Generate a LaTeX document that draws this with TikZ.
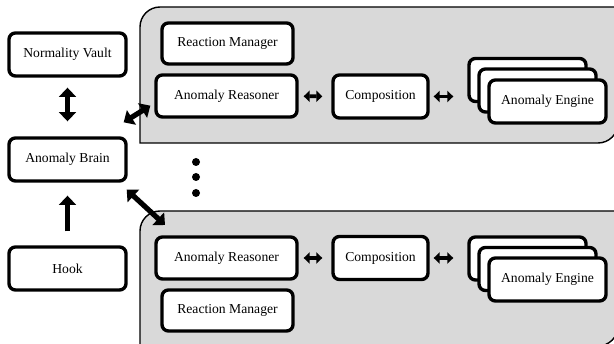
\documentclass[tikz,border=0pt]{standalone}
\usepackage{fontspec}
\setmainfont{Liberation Serif}
\usepackage{tikz}
\usetikzlibrary{arrows.meta, positioning}
\definecolor{PanelGray}{HTML}{D9D9D9}

\begin{document}
\begin{tikzpicture}[
    x=0.25mm, y=-0.25mm,
    box/.style={
      draw, fill=white, rounded corners=1.6mm, line width=2.4pt,
      align=center, inner sep=1mm, font=\fontsize{9.7}{11}\selectfont
    },
    side/.style={box, minimum width=29.25mm, minimum height=10.75mm},
    engine/.style={box, minimum width=29.25mm, minimum height=10.75mm},
    panel/.style={draw=black, line width=1pt, fill=PanelGray},
    bigarrow/.style={line width=1.3mm, >={Triangle[length=2.3mm,width=4.2mm]}},
    smallarrow/.style={line width=0.95mm, >={Triangle[length=1.5mm,width=2.8mm]}, <->}
  ]
    \clip (0,0) rectangle (614,344);
    \fill[white] (0,0) rectangle (614,344);

    % panels
    \draw[panel] (140,143) -- (140,27) arc[start angle=180, end angle=270, radius=20]
      -- (618,7) -- (618,123) arc[start angle=0, end angle=90, radius=20] -- cycle;
    \draw[panel] (140,346) -- (140,231) arc[start angle=180, end angle=270, radius=20]
      -- (618,211) -- (618,326) arc[start angle=0, end angle=90, radius=20] -- cycle;
    \coordinate (pan2) at (140,211);

    % left column
    \node[side] (vault) at (67.5,54.5) {Normality Vault};
    \node[side] (brain) at (67.5,159.5) {Anomaly Brain};
    \node[side] (hook) at (67.5,268.5) {Hook};

    % upper panel
    \node[box, minimum width=32.75mm, minimum height=10.25mm] (rm1) at (227.5,43.5) {Reaction Manager};
    \node[box, minimum width=35.25mm, minimum height=10.5mm] (ra1) at (226.5,96) {Anomaly Reasoner};
    \node[box, minimum width=23.75mm, minimum height=10.75mm] (co1) at (380.5,96.5) {Composition};
    \node[engine] (eb1) at (527.5,80) {};
    \node[engine] (em1) at (537.5,90.5) {};
    \node[engine] (ef1) at (547.5,101.5) {Anomaly Engine};

    % lower panel
    \node[box, minimum width=35.25mm, minimum height=10.5mm] (ra2) at (226.5,258) {Anomaly Reasoner};
    \node[box, minimum width=32.75mm, minimum height=10.25mm] (rm2) at (227.5,310.5) {Reaction Manager};
    \node[box, minimum width=23.75mm, minimum height=10.75mm] (co2) at (380.5,258) {Composition};
    \node[engine] (eb2) at (527.5,258.5) {};
    \node[engine] (em2) at (537.5,269) {};
    \node[engine] (ef2) at (547.5,279.5) {Anomaly Engine};

    % arrows
    \draw[bigarrow, <->, shorten <=2.5mm, shorten >=3.75mm] (vault) -- (brain);
    \draw[bigarrow, ->, shorten <=3.5mm, shorten >=3.25mm] (hook) -- (brain);
    \draw[bigarrow, <->] ([shift={(-4,-14)}]brain.north east) -- ([shift={(-4,-13)}]ra1.south west);
    \draw[bigarrow, <->] ([shift={(-1,7)}]brain.south east) -- ([shift={(25,14)}]pan2);

    \draw[smallarrow, shorten <=1.25mm, shorten >=2.25mm] (ra1) -- (co1);
    \draw[smallarrow, shorten <=1mm, shorten >=3.5mm] (co1.east) -- (co1.east -| eb1.west);
    \draw[smallarrow, shorten <=1.25mm, shorten >=2.25mm] (ra2) -- (co2);
    \draw[smallarrow, shorten <=1mm, shorten >=3.5mm] (co2.east) -- (co2.east -| eb2.west);

    % more panels
    \foreach \y in {162,177,193}
      \fill (196,\y) circle[radius=4];
  \end{tikzpicture}
\end{document}
